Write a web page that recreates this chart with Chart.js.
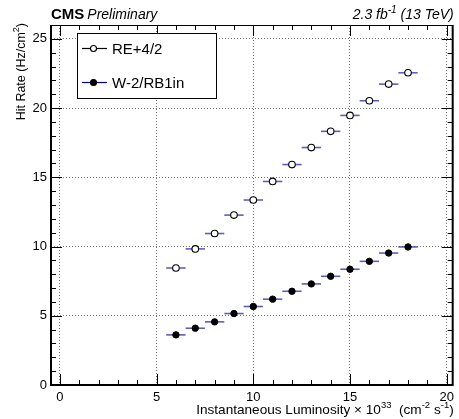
<!DOCTYPE html>
<html>
<head>
<meta charset="utf-8">
<script src="https://cdn.jsdelivr.net/npm/chart.js@4"></script>
<style>
  body { margin: 0; background: #fff; }
</style>
</head>
<body>
<canvas id="myChart" width="459" height="419"></canvas>
<script>
// Data
const lumi = [6, 7, 8, 9, 10, 11, 12, 13, 14, 15, 16, 17, 18];
const reRate = [8.45, 9.83, 10.94, 12.27, 13.36, 14.7, 15.92, 17.15, 18.32, 19.47, 20.53, 21.73, 22.55];
const w2Rate = [3.62, 4.1, 4.56, 5.16, 5.67, 6.2, 6.77, 7.3, 7.85, 8.36, 8.93, 9.53, 9.97];
const lumiErr = [0.5, 0.5, 0.5, 0.5, 0.5, 0.5, 0.5, 0.5, 0.5, 0.5, 0.5, 0.5, 0.5];
const xTicks = [0, 5, 10, 15, 20];
const yTicks = [0, 5, 10, 15, 20, 25];
const seriesNames = ['RE+4/2', 'W-2/RB1in'];

const FONT = '"Liberation Sans", Arial, Helvetica, sans-serif';
const errColor = 'rgba(40, 40, 170, 0.75)';

// Draw text pieces one after another, with superscripts
function drawPieces(ctx, pieces, x, y, align) {
    let total = 0;
    pieces.forEach(p => {
        ctx.font = p.font;
        total += ctx.measureText(p.text).width;
    });
    let cx = align === 'right' ? x - total : x;
    pieces.forEach(p => {
        ctx.font = p.font;
        ctx.fillText(p.text, cx, y - (p.up || 0));
        cx += ctx.measureText(p.text).width;
    });
}

const decorPlugin = {
    id: 'decor',
    // horizontal error bars below the markers
    beforeDatasetsDraw(chart) {
        const ctx = chart.ctx;
        const xs = chart.scales.x, ys = chart.scales.y;
        ctx.save();
        ctx.strokeStyle = errColor;
        ctx.lineWidth = 1.6;
        [reRate, w2Rate].forEach(series => {
            series.forEach((v, i) => {
                const py = ys.getPixelForValue(v);
                ctx.beginPath();
                ctx.moveTo(xs.getPixelForValue(lumi[i] - lumiErr[i]), py);
                ctx.lineTo(xs.getPixelForValue(lumi[i] + lumiErr[i]), py);
                ctx.stroke();
            });
        });
        ctx.restore();
    },
    afterDraw(chart) {
        const ctx = chart.ctx;
        const a = chart.chartArea;
        const xs = chart.scales.x, ys = chart.scales.y;
        ctx.save();

        // frame
        ctx.strokeStyle = '#000';
        ctx.lineWidth = 2;
        ctx.beginPath();
        ctx.moveTo(a.left, a.top);
        ctx.lineTo(a.left, a.bottom);
        ctx.lineTo(a.right, a.bottom);
        ctx.lineTo(a.right, a.top);
        ctx.stroke();
        ctx.lineWidth = 1;
        ctx.beginPath();
        ctx.moveTo(a.left, a.top + 0.5);
        ctx.lineTo(a.right, a.top + 0.5);
        ctx.stroke();

        // tick marks on all four sides
        ctx.lineWidth = 1;
        for (let v = 0; v <= 20; v++) {
            const px = Math.round(xs.getPixelForValue(v)) + 0.5;
            const len = v % 5 === 0 ? 11 : 5;
            ctx.beginPath();
            ctx.moveTo(px, a.bottom);
            ctx.lineTo(px, a.bottom - len);
            ctx.moveTo(px, a.top);
            ctx.lineTo(px, a.top + len);
            ctx.stroke();
        }
        for (let v = 0; v <= 26; v++) {
            const py = Math.round(ys.getPixelForValue(v)) + 0.5;
            const len = v % 5 === 0 ? 11 : 5;
            ctx.beginPath();
            ctx.moveTo(a.left, py);
            ctx.lineTo(a.left + len, py);
            ctx.moveTo(a.right, py);
            ctx.lineTo(a.right - len, py);
            ctx.stroke();
        }

        // header texts
        ctx.fillStyle = '#000';
        ctx.textBaseline = 'alphabetic';
        ctx.font = 'bold 15px ' + FONT;
        ctx.fillText('CMS', a.left, 19);
        const cmsW = ctx.measureText('CMS').width;
        ctx.font = 'italic 14px ' + FONT;
        ctx.fillText('Preliminary', a.left + cmsW + 3, 19);
        drawPieces(ctx, [
            { text: '2.3 fb', font: 'italic 14px ' + FONT },
            { text: '-1', font: 'italic 10px ' + FONT, up: 6 },
            { text: ' (13 TeV)', font: 'italic 14px ' + FONT }
        ], a.right + 1, 19, 'right');

        // x axis title
        drawPieces(ctx, [
            { text: 'Instantaneous Luminosity \u00d7 10', font: '13.6px ' + FONT },
            { text: '33', font: '9.5px ' + FONT, up: 6 },
            { text: '  (cm', font: '13.6px ' + FONT },
            { text: '-2', font: '9.5px ' + FONT, up: 6 },
            { text: ' s', font: '13.6px ' + FONT },
            { text: '-1', font: '9.5px ' + FONT, up: 6 },
            { text: ')', font: '13.6px ' + FONT }
        ], a.right + 1, 414, 'right');

        // y axis title (rotated)
        ctx.save();
        ctx.translate(25, a.top - 2);
        ctx.rotate(-Math.PI / 2);
        drawPieces(ctx, [
            { text: 'Hit Rate (Hz/cm', font: '12.5px ' + FONT },
            { text: '2', font: '9px ' + FONT, up: 6 },
            { text: ')', font: '12.5px ' + FONT }
        ], 0, 0, 'right');
        ctx.restore();

        // legend
        ctx.fillStyle = '#fff';
        ctx.fillRect(77, 33, 140, 66);
        ctx.strokeStyle = '#000';
        ctx.lineWidth = 1;
        ctx.strokeRect(77.5, 33.5, 139, 65);
        const rows = [
            { y: 48.5, line: '#000', fill: '#fff', name: seriesNames[0] },
            { y: 82.5, line: '#0000a0', fill: '#000', name: seriesNames[1] }
        ];
        rows.forEach(r => {
            ctx.strokeStyle = r.line;
            ctx.lineWidth = 1.2;
            ctx.beginPath();
            ctx.moveTo(82, r.y);
            ctx.lineTo(107, r.y);
            ctx.stroke();
            ctx.beginPath();
            ctx.arc(93.5, r.y, 3, 0, Math.PI * 2);
            ctx.fillStyle = r.fill;
            ctx.fill();
            ctx.strokeStyle = '#000';
            ctx.lineWidth = 1.1;
            ctx.stroke();
            ctx.fillStyle = '#000';
            ctx.font = '15px ' + FONT;
            ctx.textBaseline = 'middle';
            ctx.fillText(r.name, 112, r.y + 1);
        });

        ctx.restore();
    }
};

const ctx = document.getElementById('myChart').getContext('2d');
window.myChart = new Chart(ctx, {
    type: 'scatter',
    data: {
        datasets: [
            {
                label: seriesNames[0],
                data: lumi.map((x, i) => ({ x: x, y: reRate[i] })),
                pointRadius: 3.3,
                pointBackgroundColor: '#fff',
                pointBorderColor: '#000',
                pointBorderWidth: 1.1,
                showLine: false
            },
            {
                label: seriesNames[1],
                data: lumi.map((x, i) => ({ x: x, y: w2Rate[i] })),
                pointRadius: 3.2,
                pointBackgroundColor: '#000',
                pointBorderColor: '#000',
                pointBorderWidth: 1,
                showLine: false
            }
        ]
    },
    options: {
        responsive: false,
        animation: false,
        events: [],
        layout: { padding: { top: 25, right: 4, left: 0, bottom: 0 } },
        plugins: {
            legend: { display: false },
            tooltip: { enabled: false }
        },
        scales: {
            x: {
                type: 'linear',
                min: -0.46,
                max: 20.31,
                afterBuildTicks: scale => { scale.ticks = xTicks.map(v => ({ value: v })); },
                afterFit: scale => { scale.height = 34; },
                grid: { color: '#777', lineWidth: 1, drawTicks: false },
                border: { display: false, dash: [1, 2] },
                ticks: {
                    padding: 5,
                    color: '#000',
                    maxRotation: 0,
                    font: { family: FONT, size: 13 }
                }
            },
            y: {
                type: 'linear',
                min: 0,
                max: 26,
                afterBuildTicks: scale => { scale.ticks = yTicks.map(v => ({ value: v })); },
                afterFit: scale => { scale.width = 51; },
                grid: { color: '#777', lineWidth: 1, drawTicks: false },
                border: { display: false, dash: [1, 2] },
                ticks: {
                    padding: 4,
                    color: '#000',
                    font: { family: FONT, size: 13 }
                }
            }
        }
    },
    plugins: [decorPlugin]
});
</script>
</body>
</html>
